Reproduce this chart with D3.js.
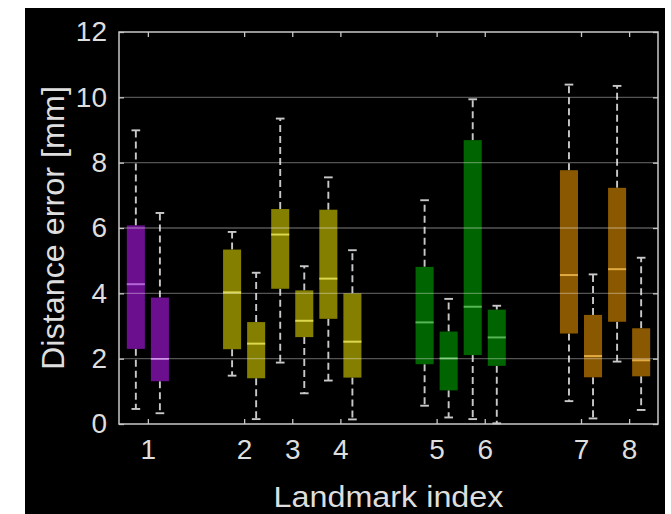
<!DOCTYPE html>
<html>
<head>
<meta charset="utf-8">
<script src="https://cdn.jsdelivr.net/npm/d3@7"></script>
<style>
  html, body { margin: 0; padding: 0; background: #fff; }
  text { font-family: "Liberation Sans", Arial, sans-serif; }
</style>
</head>
<body>
<div id="chart"></div>
<script>
// Landmark ticks and their positions on the x axis (groups separated by gaps)
const landmarks = ['1', '2', '3', '4', '5', '6', '7', '8'];
const landmarkPos = [0, 2, 3, 4, 6, 7, 9, 10];
const landmarkColor = ['purple', 'yellow', 'yellow', 'yellow', 'green', 'green', 'orange', 'orange'];

// Two boxes per landmark (a = left, b = right): [lowerWhisker, q1, median, q3, upperWhisker]
const boxesA = [
  [0.46, 2.30, 4.28, 6.08, 8.99],
  [1.48, 2.29, 4.03, 5.34, 5.88],
  [1.88, 4.14, 5.80, 6.58, 9.35],
  [1.33, 3.22, 4.45, 6.56, 7.55],
  [0.56, 1.83, 3.11, 4.81, 6.85],
  [0.15, 2.11, 3.59, 8.69, 9.94],
  [0.70, 2.77, 4.56, 7.77, 10.39],
  [1.91, 3.13, 4.74, 7.23, 10.35]
];
const boxesB = [
  [0.33, 1.31, 1.99, 3.87, 6.46],
  [0.15, 1.40, 2.46, 3.12, 4.63],
  [0.94, 2.66, 3.16, 4.09, 4.83],
  [0.14, 1.42, 2.52, 4.00, 5.32],
  [0.20, 1.03, 2.01, 2.83, 3.83],
  [0.02, 1.78, 2.65, 3.50, 3.62],
  [0.17, 1.43, 2.08, 3.34, 4.58],
  [0.43, 1.46, 1.95, 2.93, 5.09]
];

const yTicks = [0, 2, 4, 6, 8, 10, 12];

const Theme = {
  fill: { purple: '#6b0f8f', yellow: '#857f00', green: '#006400', orange: '#8a5800' },
  median: { purple: '#b466d6', yellow: '#dcd84e', green: '#56b656', orange: '#e2aa44' },
  axis: '#c8c8c8',
  text: '#dedede'
};

const width = 671, height = 514;
const margin = { left: 119, right: 13, top: 32, bottom: 90 };

const svg = d3.select('#chart').append('svg')
  .attr('width', width)
  .attr('height', height);

// black canvas with the thin white border of the original figure
svg.append('rect')
  .attr('x', 25).attr('y', 8)
  .attr('width', 640).attr('height', height - 8)
  .attr('fill', '#000');

const x = d3.scaleLinear().domain([-0.6, 10.6]).range([margin.left, width - margin.right]);
const y = d3.scaleLinear().domain([0, 12]).range([height - margin.bottom, margin.top]);

// build rows for every box
const rows = [];
landmarks.forEach((lm, i) => {
  rows.push({ pos: landmarkPos[i] - 0.25, v: boxesA[i], color: landmarkColor[i] });
  rows.push({ pos: landmarkPos[i] + 0.25, v: boxesB[i], color: landmarkColor[i] });
});

const boxW = x(0.375) - x(0);
const capW = x(0.18) - x(0);

// whiskers (dashed)
const g = svg.append('g');
rows.forEach(d => {
  const cx = x(d.pos);
  g.append('line')
    .attr('x1', cx).attr('x2', cx)
    .attr('y1', y(d.v[3])).attr('y2', y(d.v[4]))
    .attr('stroke', Theme.axis).attr('stroke-width', 1.9)
    .attr('stroke-dasharray', '7,4');
  g.append('line')
    .attr('x1', cx).attr('x2', cx)
    .attr('y1', y(d.v[1])).attr('y2', y(d.v[0]))
    .attr('stroke', Theme.axis).attr('stroke-width', 1.9)
    .attr('stroke-dasharray', '7,4');
  [d.v[0], d.v[4]].forEach(w => {
    g.append('line')
      .attr('x1', cx - capW / 2).attr('x2', cx + capW / 2)
      .attr('y1', y(w)).attr('y2', y(w))
      .attr('stroke', Theme.axis).attr('stroke-width', 1.9);
  });
});

// boxes
rows.forEach(d => {
  const cx = x(d.pos);
  g.append('rect')
    .attr('x', cx - boxW / 2)
    .attr('y', y(d.v[3]))
    .attr('width', boxW)
    .attr('height', y(d.v[1]) - y(d.v[3]))
    .attr('fill', Theme.fill[d.color]);
  g.append('line')
    .attr('x1', cx - boxW / 2).attr('x2', cx + boxW / 2)
    .attr('y1', y(d.v[2])).attr('y2', y(d.v[2]))
    .attr('stroke', Theme.median[d.color]).attr('stroke-width', 2);
});

// grid lines (drawn on top, faint)
svg.append('g')
  .selectAll('line')
  .data(yTicks.slice(1, -1))
  .join('line')
  .attr('x1', x.range()[0]).attr('x2', x.range()[1])
  .attr('y1', d => y(d)).attr('y2', d => y(d))
  .attr('stroke', '#fff').attr('stroke-opacity', 0.33).attr('stroke-width', 1.3);

// axes
const axisStyle = sel => {
  sel.select('.domain').remove();
  sel.selectAll('line').attr('stroke', Theme.axis).attr('stroke-width', 1.3);
  sel.selectAll('text').attr('fill', Theme.text).style('font-size', '28px')
    .style('font-family', '"Liberation Sans", Arial, sans-serif');
};

svg.append('g')
  .attr('transform', `translate(0,${y(0)})`)
  .call(d3.axisBottom(x).tickValues(landmarkPos).tickFormat((d, i) => landmarks[i])
    .tickSizeInner(-5).tickSizeOuter(0).tickPadding(15))
  .call(axisStyle);

svg.append('g')
  .attr('transform', `translate(0,${y(12)})`)
  .call(d3.axisTop(x).tickValues(landmarkPos).tickFormat('').tickSizeInner(-5).tickSizeOuter(0))
  .call(axisStyle);

svg.append('g')
  .attr('transform', `translate(${x.range()[0]},0)`)
  .call(d3.axisLeft(y).tickValues(yTicks).tickSizeInner(-5).tickSizeOuter(0).tickPadding(12))
  .call(axisStyle);

svg.append('g')
  .attr('transform', `translate(${x.range()[1]},0)`)
  .call(d3.axisRight(y).tickValues(yTicks).tickFormat('').tickSizeInner(-5).tickSizeOuter(0))
  .call(axisStyle);

// frame
svg.append('rect')
  .attr('x', x.range()[0]).attr('y', y(12))
  .attr('width', x.range()[1] - x.range()[0])
  .attr('height', y(0) - y(12))
  .attr('fill', 'none')
  .attr('stroke', Theme.axis).attr('stroke-width', 1.5);

// axis titles
svg.append('text')
  .attr('x', (x.range()[0] + x.range()[1]) / 2)
  .attr('y', 507)
  .attr('text-anchor', 'middle')
  .attr('fill', Theme.text)
  .attr('textLength', 230)
  .attr('lengthAdjust', 'spacingAndGlyphs')
  .style('font-size', '30px')
  .text('Landmark index');

svg.append('text')
  .attr('transform', `translate(64,${(y(0) + y(12)) / 2}) rotate(-90)`)
  .attr('text-anchor', 'middle')
  .attr('fill', Theme.text)
  .attr('textLength', 284)
  .attr('lengthAdjust', 'spacingAndGlyphs')
  .style('font-size', '31px')
  .text('Distance error [mm]');
</script>
</body>
</html>
